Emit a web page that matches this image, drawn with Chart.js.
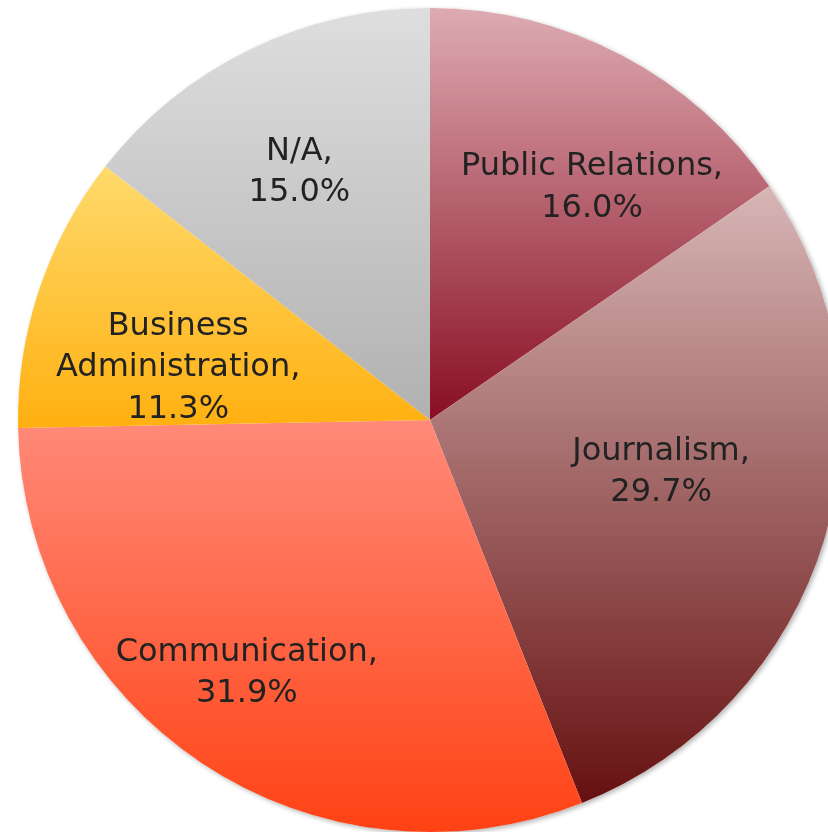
<!DOCTYPE html>
<html>
<head>
<meta charset="utf-8">
<script src="https://cdn.jsdelivr.net/npm/chart.js@4.4.1/dist/chart.umd.min.js"></script>
<style>
  html, body { margin: 0; padding: 0; background: #ffffff; overflow: hidden; }
  #wrap { position: absolute; left: 0; top: 0; width: 860px; height: 850px; }
</style>
</head>
<body>
<div id="wrap"><canvas id="pie"></canvas></div>
<script>
// Degree programmes and their shares (percent)
const categories = ["Public Relations", "Journalism", "Communication", "Business Administration", "N/A"];
const shares = [16.0, 29.7, 31.9, 11.3, 15.0];

// Vertical gradient (top colour, bottom colour) for each slice
const sliceGradients = [
  ["#deabb2", "#880e22"],
  ["#d8b6b6", "#661010"],
  ["#ff8a79", "#ff4214"],
  ["#ffda6c", "#ffb010"],
  ["#dedede", "#b1b1b1"]
];

// Label placement: angle nudge (degrees) from the slice middle, and radius fraction
const labelPlacement = [
  { dAngle: 7.2, frac: 0.687 },
  { dAngle: -4.2, frac: 0.575 },
  { dAngle: 2.3, frac: 0.758 },
  { dAngle: -6.8, frac: 0.624 },
  { dAngle: -1.8, frac: 0.68 }
];

const LABEL_FONT = "32px 'DejaVu Sans', sans-serif";
const LINE_H = 41.5;

// Build a top-to-bottom gradient spanning the vertical extent of slice i
function sliceFill(context) {
  const chart = context.chart;
  const area = chart.chartArea;
  const i = context.dataIndex;
  if (!area) return sliceGradients[i][1];
  const cx = (area.left + area.right) / 2;
  const cy = (area.top + area.bottom) / 2;
  const r = Math.min(area.right - area.left, area.bottom - area.top) / 2;
  const total = shares.reduce((a, b) => a + b, 0);
  let start = -Math.PI / 2;
  for (let k = 0; k < i; k++) start += shares[k] / total * Math.PI * 2;
  const end = start + shares[i] / total * Math.PI * 2;
  const ys = [cy, cy + r * Math.sin(start), cy + r * Math.sin(end)];
  [-Math.PI / 2, Math.PI / 2, 3 * Math.PI / 2].forEach(a => {
    if (a >= start && a <= end) ys.push(cy + r * Math.sin(a));
  });
  const y0 = Math.min(...ys), y1 = Math.max(...ys);
  const g = chart.ctx.createLinearGradient(0, y0, 0, y1);
  g.addColorStop(0, sliceGradients[i][0]);
  g.addColorStop(1, sliceGradients[i][1]);
  return g;
}

// Soft drop shadow beneath the whole pie
const pieShadow = {
  id: 'pieShadow',
  beforeDatasetsDraw(chart) {
    const arc = chart.getDatasetMeta(0).data[0];
    if (!arc) return;
    const ctx = chart.ctx;
    ctx.save();
    ctx.shadowColor = 'rgba(0,0,0,0.3)';
    ctx.shadowBlur = 5;
    ctx.shadowOffsetX = 2;
    ctx.shadowOffsetY = 2;
    ctx.fillStyle = '#ffffff';
    ctx.beginPath();
    ctx.arc(arc.x, arc.y, arc.outerRadius, 0, Math.PI * 2);
    ctx.fill();
    ctx.restore();
  }
};

// Category + percentage labels inside each slice
const sliceLabels = {
  id: 'sliceLabels',
  afterDatasetsDraw(chart) {
    const ctx = chart.ctx;
    const meta = chart.getDatasetMeta(0);
    ctx.save();
    ctx.font = LABEL_FONT;
    ctx.fillStyle = '#222222';
    ctx.textAlign = 'center';
    ctx.textBaseline = 'middle';
    meta.data.forEach((arc, i) => {
      const p = labelPlacement[i];
      const mid = (arc.startAngle + arc.endAngle) / 2 + p.dAngle * Math.PI / 180;
      const rr = arc.outerRadius * p.frac;
      const x = arc.x + Math.cos(mid) * rr;
      const y = arc.y + Math.sin(mid) * rr;
      const head = categories[i] + ',';
      let lines = [head];
      if (ctx.measureText(head).width > 300) lines = head.split(' ');
      lines.push(shares[i].toFixed(1) + '%');
      const top = y - (lines.length - 1) * LINE_H / 2;
      lines.forEach((t, k) => ctx.fillText(t, x, top + k * LINE_H));
    });
    ctx.restore();
  }
};

new Chart(document.getElementById('pie'), {
  type: 'pie',
  data: {
    labels: categories,
    datasets: [{
      data: shares,
      backgroundColor: sliceFill,
      borderWidth: 0
    }]
  },
  options: {
    responsive: true,
    maintainAspectRatio: false,
    animation: false,
    layout: { padding: { left: 18, top: 8, right: 18, bottom: 18 } },
    plugins: {
      legend: { display: false },
      tooltip: { enabled: false }
    }
  },
  plugins: [pieShadow, sliceLabels]
});
</script>
</body>
</html>
